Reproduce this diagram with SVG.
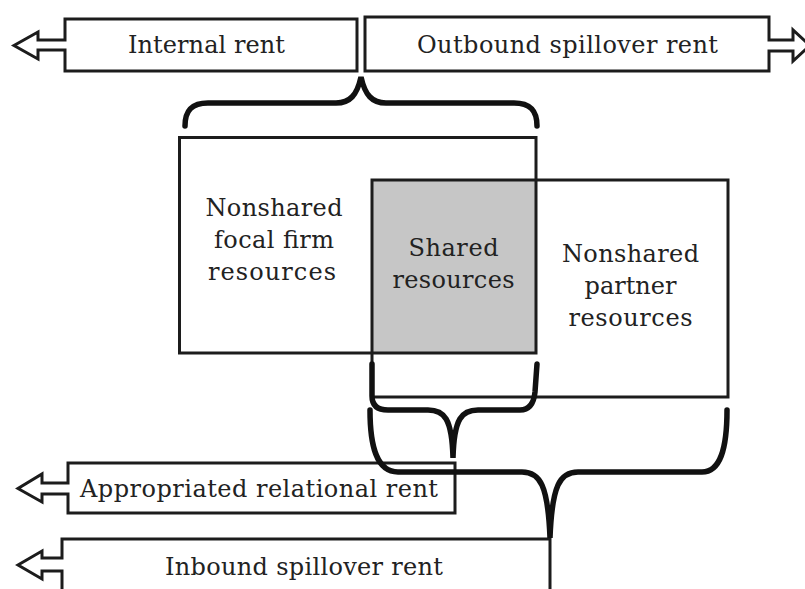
<svg xmlns="http://www.w3.org/2000/svg" width="805" height="589" viewBox="0 0 805 589">
<style>
.box{fill:none;stroke:#1c1c1c;stroke-width:3;stroke-linejoin:miter}
.shared{fill:#c6c6c6;stroke:none}
.lbl{font-family:"DejaVu Serif","Liberation Serif",serif;font-size:24px;fill:#222;text-anchor:middle}
.brace{fill:none;stroke:#111;stroke-width:5.5;stroke-linecap:round;stroke-linejoin:miter;stroke-miterlimit:4}
</style>
<rect width="805" height="589" fill="#fff"/>
<g id="internal-rent">
<path class="box" d="M357,19 L65,19 L65,40 L38,40 L38,32 L14,45.5 L38,59 L38,50 L65,50 L65,71 L357,71 Z"/>
<text class="lbl" x="206.5" y="53" textLength="157">Internal rent</text>
</g>
<g id="outbound-rent">
<path class="box" d="M365,17 L769,17 L769,40 L793,40 L793,30 L810,45.5 L793,61 L793,51 L769,51 L769,71 L365,71 Z"/>
<text class="lbl" x="567.5" y="53" textLength="301">Outbound spillover rent</text>
</g>
<g id="shared-resources">
<rect class="shared" x="372" y="180" width="164" height="173"/>
<text class="lbl" x="453.5" y="256" textLength="90">Shared</text>
<text class="lbl" x="453.5" y="288" textLength="122">resources</text>
</g>
<g id="focal-resources">
<rect class="box" x="179.5" y="137.5" width="356.5" height="215.5"/>
<text class="lbl" x="274" y="216" textLength="137">Nonshared</text>
<text class="lbl" x="274" y="248" textLength="120">focal firm</text>
<text class="lbl" x="272" y="280" textLength="128">resources</text>
</g>
<g id="partner-resources">
<rect class="box" x="372" y="180" width="356" height="217"/>
<text class="lbl" x="630.5" y="262" textLength="137">Nonshared</text>
<text class="lbl" x="630.5" y="294" textLength="92">partner</text>
<text class="lbl" x="630.5" y="326" textLength="124">resources</text>
</g>
<g id="appropriated-rent">
<path class="box" d="M455,463 L68,463 L68,483 L42,483 L42,474 L18,488.5 L42,502 L42,494 L68,494 L68,513 L455,513 Z"/>
<text class="lbl" x="259" y="497" textLength="358">Appropriated relational rent</text>
</g>
<g id="inbound-rent">
<path class="box" d="M550,539 L62,539 L62,558 L42,558 L42,551 L18,565 L42,579 L42,571 L62,571 L62,600 L550,600 Z"/>
<text class="lbl" x="304" y="575" textLength="278">Inbound spillover rent</text>
</g>
<g id="connectors">
<path class="brace" d="M185,126 C185,110 192,103 208,103 L336,103 C350,103 357,95 361,77 C365,95 372,103 386,103 L514,103 C530,103 537,110 537,126"/>
<path class="brace" d="M372,364 L372,396 C372,405 377,410 388,410 L428,410 C444,410 452,418 453,458 C454,418 462,410 478,410 L520,410 C530,410 534,402 535,392 L537,364"/>
<path class="brace" d="M370,410 C370,445 376,472 398,472 L522,472 C540,472 548,485 550,538 C552,485 560,472 578,472 L702,472 C720,472 727,450 727,410"/>
</g>
</svg>
